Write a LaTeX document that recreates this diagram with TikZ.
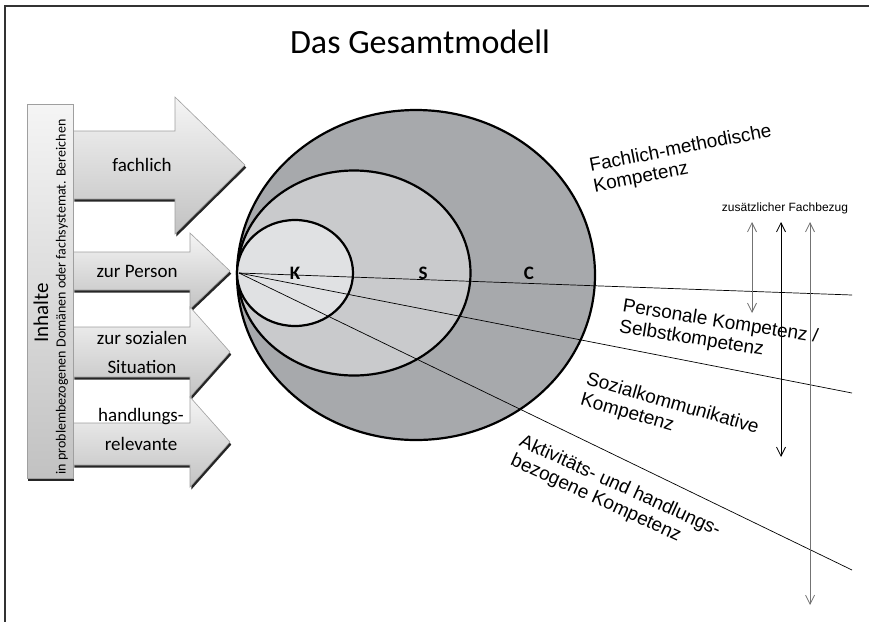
\documentclass[tikz,border=0pt]{standalone}
\usepackage{fontspec}
\setmainfont{Carlito}
\newfontfamily\arialfont{Liberation Sans}
\usetikzlibrary{shapes.geometric,arrows.meta}
\definecolor{ringC}{HTML}{A7A9AC}
\definecolor{ringS}{HTML}{C9CACC}
\definecolor{ringK}{HTML}{E0E1E3}
\definecolor{framegray}{HTML}{333333}

\begin{document}
\begin{tikzpicture}[x=1pt,y=-1pt,
	ring/.style={ellipse,draw=black,line width=2.2pt,inner sep=0pt},
	blockarrow/.style={draw=gray!75,line width=0.6pt,top color=gray!8,bottom color=gray!48},
	blockshadow/.style={fill=black!85,xshift=1.3pt,yshift=-2.6pt},
	arrowlabel/.style={font=\fontsize{19}{29}\selectfont,align=center},
	komplabel/.style={font=\arialfont\fontsize{19}{21}\selectfont,align=left,inner sep=0pt,anchor=north west},
	ringlabel/.style={font=\bfseries\fontsize{19}{21}\selectfont},
	ray/.style={line width=0.7pt},
	bezug/.style={<->,>={Straight Barb[length=9pt,width=9pt]},line width=0.8pt}]
	\useasboundingbox (0,0) rectangle (869,622);
	\draw[line width=1.4pt,framegray] (869,6) -- (5,6) -- (5,622);

	\node (titel) at (420,42) {\fontsize{34}{40}\selectfont Das Gesamtmodell};

	% Pfeile
	\fill[blockshadow] (73,131) -- (175,131) -- (175,97) -- (245,165) -- (175,234) -- (175,199) -- (73,199) -- cycle;
	\path[blockarrow] (73,131) -- (175,131) -- (175,97) -- (245,165) -- (175,234) -- (175,199) -- (73,199) -- cycle;
	\fill[blockshadow] (73,252) -- (190,252) -- (190,233) -- (230,271) -- (190,309) -- (190,290) -- (73,290) -- cycle;
	\path[blockarrow] (73,252) -- (190,252) -- (190,233) -- (230,271) -- (190,309) -- (190,290) -- (73,290) -- cycle;
	\fill[blockshadow] (73,327) -- (190,327) -- (190,307) -- (230,352) -- (190,397) -- (190,377) -- (73,377) -- cycle;
	\path[blockarrow] (73,327) -- (190,327) -- (190,307) -- (230,352) -- (190,397) -- (190,377) -- (73,377) -- cycle;
	\fill[blockshadow] (73,423) -- (190,423) -- (190,397) -- (230,442) -- (190,487) -- (190,465) -- (73,465) -- cycle;
	\path[blockarrow] (73,423) -- (190,423) -- (190,397) -- (230,442) -- (190,487) -- (190,465) -- (73,465) -- cycle;

	\node (fachlich) [arrowlabel] at (142,165) {fachlich};
	\node (person) [arrowlabel] at (137,271) {zur Person};
	\node (sozial) [arrowlabel] at (142,352) {zur sozialen\\Situation};
	\node (handlung) [arrowlabel] at (141,429) {handlungs-\\relevante};

	% Inhalte
	\fill[blockshadow] (27,104) rectangle (73,478);
	\path[blockarrow] (27,104) rectangle (73,478);
	\node (inhalte) [rotate=90] at (41,313) {\fontsize{21}{24}\selectfont Inhalte};
	\node (bereiche) [rotate=90] at (62,297) {\fontsize{14}{16}\selectfont in problembezogenen Domänen oder fachsystemat. Bereichen};

	% Kompetenzen
	\node (C) [ring,fill=ringC,minimum width=358pt,minimum height=330pt] at (416,275) {};
	\node (S) [ring,fill=ringS,minimum width=233pt,minimum height=205pt] at (354,273) {};
	\node (K) [ring,fill=ringK,minimum width=116pt,minimum height=106pt] at (295,273) {};

	\coordinate (spitze) at (239,273);
	\coordinate (endeP) at (852,295);
	\coordinate (endeS) at (852,393);
	\coordinate (endeA) at (852,570);
	\draw[ray] (spitze) -- (endeP);
	\draw[ray] (spitze) -- (endeS);
	\draw[ray] (spitze) -- (endeA);

	\node (labK) [ringlabel] at (295,273) {K};
	\node (labS) [ringlabel] at (423,273) {S};
	\node (labC) [ringlabel] at (529,273) {C};

	\node (fachm) [komplabel,rotate=11] at (588,158) {Fachlich-methodische\\Kompetenz};
	\node (personal) [komplabel,rotate=-9] at (624,298) {Personale Kompetenz /\\Selbstkompetenz};
	\node (sozialk) [komplabel,rotate=-16] at (589,371) {Sozialkommunikative\\Kompetenz};
	\node (aktiv) [komplabel,rotate=-24.5] at (524,433) {Aktivitäts- und handlungs-\\bezogene Kompetenz};

	% zusaetzlicher Fachbezug
	\node (fachbezug) [font=\arialfont\fontsize{12}{14}\selectfont] at (785,208) {zusätzlicher Fachbezug};
	\coordinate (b1o) at (752,222);
	\coordinate (b1u) at (752,313);
	\coordinate (b2o) at (781,222);
	\coordinate (b2u) at (781,457);
	\coordinate (b3o) at (810,222);
	\coordinate (b3u) at (810,605);
	\draw[bezug,gray!90!black] (b1o) -- (b1u);
	\draw[bezug,black] (b2o) -- (b2u);
	\draw[bezug,gray!90!black] (b3o) -- (b3u);
\end{tikzpicture}
\end{document}
